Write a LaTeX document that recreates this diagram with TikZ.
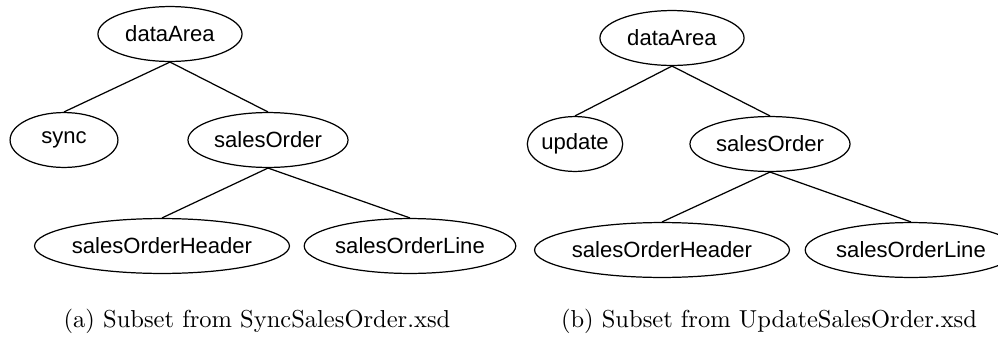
\documentclass[tikz,border=0pt]{standalone}
\usepackage{fontspec}
\newfontfamily\nodefont{Liberation Sans}
\usepackage{tikz}
\usetikzlibrary{shapes.geometric}

\begin{document}
\begin{tikzpicture}[x=0.408pt, y=-0.408pt,
    elem/.style={draw, ellipse, line width=0.5pt, inner sep=0pt,
                 minimum height=22.4pt, font=\nodefont\fontsize{9}{10}\selectfont},
    edge/.style={line width=0.5pt}]

    \useasboundingbox (0,0) rectangle (998,347);

    % Subset (a): sync
    \node[elem, minimum width=58.8pt] (a-data) at (170,34) {dataArea};
    \node[elem, minimum width=44pt] (a-sync) at (64,140) {sync};
    \node[elem, minimum width=65.3pt] (a-order) at (268,140) {salesOrder};
    \node[elem, minimum width=93.8pt] (a-header) at (162,246) {salesOrderHeader};
    \node[elem, minimum width=80pt] (a-line) at (410,246) {salesOrderLine};

    \draw[edge] (a-data.south) -- (a-sync.north);
    \draw[edge] (a-data.south) -- (a-order.north);
    \draw[edge] (a-order.south) -- (a-header.north);
    \draw[edge] (a-order.south) -- (a-line.north);

    % Subset (b): update
    \node[elem, minimum width=58.8pt] (b-data) at (672,38) {dataArea};
    \node[elem, minimum width=36.7pt] (b-update) at (575,144) {update};
    \node[elem, minimum width=65.3pt] (b-order) at (770,144) {salesOrder};
    \node[elem, minimum width=93.8pt] (b-header) at (662,250) {salesOrderHeader};
    \node[elem, minimum width=80pt] (b-line) at (911,250) {salesOrderLine};

    \draw[edge] (b-data.south) -- (b-update.north);
    \draw[edge] (b-data.south) -- (b-order.north);
    \draw[edge] (b-order.south) -- (b-header.north);
    \draw[edge] (b-order.south) -- (b-line.north);

    % Captions
    \node (cap-a) at (257,321) {(a) Subset from SyncSalesOrder.xsd};
    \node (cap-b) at (769,321) {(b) Subset from UpdateSalesOrder.xsd};

\end{tikzpicture}
\end{document}
